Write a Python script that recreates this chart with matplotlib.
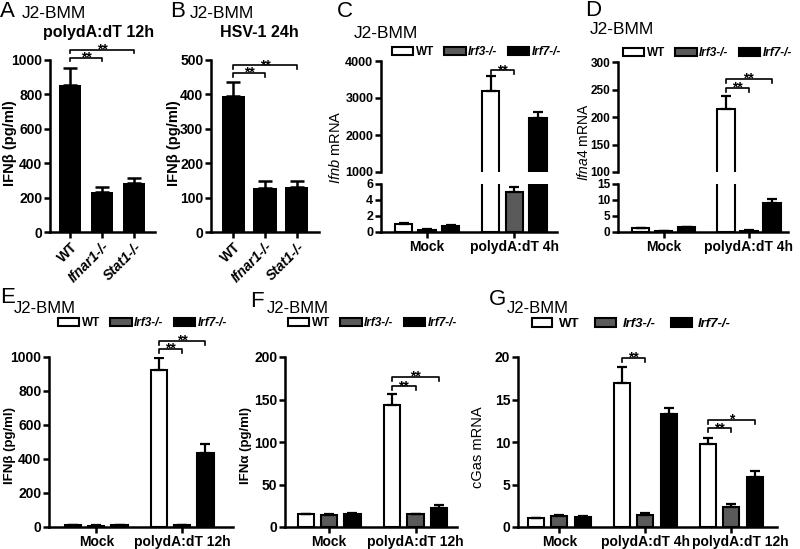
import matplotlib.pyplot as plt
import numpy as np
from matplotlib.patches import Patch
from matplotlib.transforms import ScaledTranslation

plt.rcParams['font.family'] = ['Liberation Sans', 'DejaVu Sans']
plt.rcParams['font.weight'] = 'bold'
plt.rcParams['mathtext.fontset'] = 'custom'
plt.rcParams['mathtext.it'] = 'Liberation Sans:italic:normal'
plt.rcParams['mathtext.rm'] = 'Liberation Sans:normal'

# ---- data ----
# A / B: single bars
a_labels = ['WT', 'Ifnar1-/-', 'Stat1-/-']
a_mean = [855, 230, 285]
a_err = [100, 30, 28]
b_mean = [395, 127, 132]
b_err = [42, 20, 15]

genotypes = ['WT', 'Irf3-/-', 'Irf7-/-']

# C: Ifnb mRNA
c_groups = ['Mock', 'polydA:dT 4h']
c_wt, c_wt_err = [1.0, 3200], [0.08, 400]
c_irf3, c_irf3_err = [0.3, 5.0], [0.05, 0.6]
c_irf7, c_irf7_err = [0.8, 2450], [0.1, 180]

# D: Ifna4 mRNA
d_groups = ['Mock', 'polydA:dT 4h']
d_wt, d_wt_err = [1.1, 215], [0.15, 23]
d_irf3, d_irf3_err = [0.3, 0.4], [0.05, 0.1]
d_irf7, d_irf7_err = [1.5, 9.0], [0.2, 1.3]

# E: IFNb protein
e_groups = ['Mock', 'polydA:dT 12h']
e_wt, e_wt_err = [10, 925], [1, 70]
e_irf3, e_irf3_err = [8, 10], [1, 2]
e_irf7, e_irf7_err = [10, 435], [1, 55]

# F: IFNa protein
f_groups = ['Mock', 'polydA:dT 12h']
f_wt, f_wt_err = [15, 143], [0.5, 14]
f_irf3, f_irf3_err = [14.5, 14.8], [1, 1]
f_irf7, f_irf7_err = [15.5, 22], [1.2, 3.5]

# G: cGas mRNA
g_groups = ['Mock', 'polydA:dT 4h', 'polydA:dT 12h']
g_wt, g_wt_err = [1.05, 16.95, 9.8], [0.05, 1.85, 0.65]
g_irf3, g_irf3_err = [1.3, 1.45, 2.4], [0.1, 0.15, 0.25]
g_irf7, g_irf7_err = [1.2, 13.3, 5.9], [0.08, 0.7, 0.65]

colors = ['white', '#5a5a5a', 'black']
OFF = 0.27  # spacing between bars inside a group

W, H = 800, 549
fig = plt.figure(figsize=(8, 5.49), dpi=100)


def add_ax(x0, y0, x1, y1):
    # pixel box -> figure fraction
    return fig.add_axes([x0 / W, 1 - y1 / H, (x1 - x0) / W, (y1 - y0) / H])


def style(ax, size=10):
    ax.spines[['top', 'right']].set_visible(False)
    ax.spines['left'].set_linewidth(1.8)
    ax.spines['bottom'].set_linewidth(1.8)
    ax.tick_params(direction='out', length=4, width=1.8, labelsize=size, pad=1.5)
    ax.patch.set_visible(False)


def draw_groups(ax, series, errs, width):
    n = len(series[0])
    for j, (vals, err, col) in enumerate(zip(series, errs, colors)):
        x = np.arange(n) + (j - 1) * OFF
        ax.bar(x, vals, width, color=col, edgecolor='black', linewidth=1.5, zorder=2)
        ax.errorbar(x, vals, yerr=[np.zeros(n), err], fmt='none', ecolor='black',
                    elinewidth=1.6, capsize=3.6, capthick=1.6, zorder=3)


def bracket(ax, x1, x2, y, drop, text):
    ax.plot([x1, x1, x2, x2], [y - drop, y, y, y - drop], color='black', lw=1.2,
            clip_on=False, zorder=4)
    ax.annotate(text, xy=((x1 + x2) / 2, y), xytext=(0, -2.8), textcoords='offset points',
                ha='center', va='baseline', fontsize=10, annotation_clip=False)


def legend(ax, x, y, size=8.5, hl=1.8, hp=0.2, cs=0.9):
    handles = [Patch(facecolor=c, edgecolor='black', linewidth=1.5) for c in colors]
    leg = ax.legend(handles, genotypes, ncol=3, frameon=False, handlelength=hl,
                    handleheight=0.6, handletextpad=hp, columnspacing=cs,
                    prop={'size': size, 'weight': 'bold'}, loc='center left',
                    bbox_to_anchor=(x / W, 1 - y / H), bbox_transform=fig.transFigure,
                    borderpad=0, borderaxespad=0)
    for t in leg.get_texts()[1:]:
        t.set_style('italic')


def titles(letter, lx, lb, tx, tb, tsize=12.5):
    fig.text(lx / W, 1 - lb / H, letter, fontsize=16, fontweight='normal', va='baseline')
    fig.text(tx / W, 1 - tb / H, 'J2-BMM', fontsize=tsize, fontweight='normal', va='baseline')


def ylab(x, y, text, size=10.5, weight='bold'):
    fig.text(x / W, 1 - y / H, text, rotation=90, ha='center', va='center',
             fontsize=size, fontweight=weight)


# ---- A ----
ax = add_ax(50, 60, 155, 232)
style(ax)
xa = np.arange(3)
ax.bar(xa, a_mean, 0.7, color='black', zorder=2)
ax.errorbar(xa, a_mean, yerr=[np.zeros(3), a_err], fmt='none', ecolor='black',
            elinewidth=1.8, capsize=4.7, capthick=1.8, zorder=3)
ax.set_xlim(-0.625, 2.656)
ax.set_ylim(0, 1000)
ax.set_yticks([0, 200, 400, 600, 800, 1000])
ax.set_xticks(xa)
labs = ax.set_xticklabels(a_labels, rotation=45, ha='right', rotation_mode='anchor')
for t in labs[1:]:
    t.set_style('italic')
bracket(ax, 0, 1, 1012, 17, '**')
bracket(ax, 0, 2, 1058, 17, '**')
titles('A', 0, 17, 22, 18)
fig.text(43 / W, 1 - 37 / H, 'polydA:dT 12h', fontsize=11.5, va='baseline')
ylab(10, 143, 'IFN\u03b2 (pg/ml)')

# ---- B ----
ax = add_ax(211, 60, 319, 232)
style(ax)
ax.bar(xa, b_mean, 0.72, color='black', zorder=2)
ax.errorbar(xa, b_mean, yerr=[np.zeros(3), b_err], fmt='none', ecolor='black',
            elinewidth=1.8, capsize=4.7, capthick=1.8, zorder=3)
ax.set_xlim(-0.69, 2.69)
ax.set_ylim(0, 500)
ax.set_yticks([0, 100, 200, 300, 400, 500])
ax.set_xticks(xa)
labs = ax.set_xticklabels(a_labels, rotation=45, ha='right', rotation_mode='anchor')
for t in labs[1:]:
    t.set_style('italic')
bracket(ax, 0, 1, 462, 12, '**')
bracket(ax, 0, 2, 485, 12, '**')
titles('B', 170, 17, 190, 18)
fig.text(220 / W, 1 - 37 / H, 'HSV-1 24h', fontsize=11.5, va='baseline')
ylab(174, 143, 'IFN\u03b2 (pg/ml)')

# ---- C (broken axis) ----
c_series = [c_wt, c_irf3, c_irf7]
c_errs = [c_wt_err, c_irf3_err, c_irf7_err]
axt = add_ax(381, 61, 557, 172)
axb = add_ax(381, 184, 557, 232)
for a in (axt, axb):
    style(a, 9)
    draw_groups(a, c_series, c_errs, 0.2)
    a.set_xlim(-0.53, 1.49)
axt.set_ylim(1000, 4000)
axt.set_yticks([1000, 2000, 3000, 4000])
axt.spines['bottom'].set_visible(False)
axt.set_xticks([])
axb.set_ylim(0, 6)
axb.set_yticks([0, 2, 4, 6])
axb.set_xticks(range(len(c_groups)))
axb.set_xticklabels(c_groups, fontsize=10)
bracket(axt, 1 - OFF, 1, 3750, 110, '**')
legend(axt, 392, 52)
titles('C', 337, 17, 354, 38)
ylab(336, 147, r'$\mathit{Ifnb}$ mRNA', weight='normal')

# ---- D (broken axis) ----
d_series = [d_wt, d_irf3, d_irf7]
d_errs = [d_wt_err, d_irf3_err, d_irf7_err]
axt = add_ax(618, 62, 788, 172)
axb = add_ax(618, 184, 788, 232)
for a in (axt, axb):
    style(a, 8.5)
    draw_groups(a, d_series, d_errs, 0.205)
    a.set_xlim(-0.535, 1.46)
axt.set_ylim(100, 300)
axt.set_yticks([100, 150, 200, 250, 300])
axt.spines['bottom'].set_visible(False)
axt.set_xticks([])
axb.set_ylim(0, 15)
axb.set_yticks([0, 5, 10, 15])
axb.set_xticks(range(len(d_groups)))
axb.set_xticklabels(d_groups, fontsize=10)
bracket(axt, 1 - OFF, 1, 253, 7, '**')
bracket(axt, 1 - OFF, 1 + OFF, 269, 7, '**')
legend(axt, 623, 53)
titles('D', 585, 16, 590, 34)
ylab(584, 142, r'$\mathit{Ifna4}$ mRNA', size=10, weight='normal')

# ---- E ----
ax = add_ax(49, 357, 233, 527)
style(ax)
draw_groups(ax, [e_wt, e_irf3, e_irf7], [e_wt_err, e_irf3_err, e_irf7_err], 0.19)
ax.set_xlim(-0.55, 1.59)
ax.set_ylim(0, 1000)
ax.set_yticks([0, 200, 400, 600, 800, 1000])
ax.set_xticks(range(len(e_groups)))
ax.set_xticklabels(e_groups)
bracket(ax, 1 - OFF, 1, 1049, 23, '**')
bracket(ax, 1 - OFF, 1 + OFF, 1096, 23, '**')
legend(ax, 58, 323)
titles('E', 0, 303, 14, 313, 12)
ylab(10, 445, 'IFN\u03b2 (pg/ml)', size=9.5)

# ---- F ----
ax = add_ax(285, 357, 457, 527)
style(ax)
draw_groups(ax, [f_wt, f_irf3, f_irf7], [f_wt_err, f_irf3_err, f_irf7_err], 0.19)
ax.set_xlim(-0.51, 1.48)
ax.set_ylim(0, 200)
ax.set_yticks([0, 50, 100, 150, 200])
ax.set_xticks(range(len(f_groups)))
ax.set_xticklabels(f_groups)
bracket(ax, 1 - OFF, 1, 165.6, 4.7, '**')
bracket(ax, 1 - OFF, 1 + OFF, 176.6, 4.7, '**')
legend(ax, 288, 323)
titles('F', 250, 307, 267, 313, 12)
ylab(246, 445, 'IFN\u03b1 (pg/ml)', size=9.5)

# ---- G ----
ax = add_ax(518, 357, 777, 527)
style(ax)
draw_groups(ax, [g_wt, g_irf3, g_irf7], [g_wt_err, g_irf3_err, g_irf7_err], 0.186)
ax.set_xlim(-0.48, 2.53)
ax.set_ylim(0, 20)
ax.set_yticks([0, 5, 10, 15, 20])
ax.set_xticks(range(len(g_groups)))
labs = ax.set_xticklabels(g_groups)
# the last group label sits a little right of its tick, as in the original
labs[2].set_transform(labs[2].get_transform() + ScaledTranslation(0.09, 0, fig.dpi_scale_trans))
bracket(ax, 1 - OFF, 1, 19.9, 0.47, '**')
bracket(ax, 2 - OFF, 2, 11.6, 0.47, '**')
bracket(ax, 2 - OFF, 2 + OFF, 12.6, 0.47, '*')
legend(ax, 532, 324, size=9.5, hl=1.55, hp=0.5, cs=1.2)
titles('G', 489, 305, 507, 313, 12)
ylab(478, 447, 'cGas mRNA', size=10.5, weight='normal')

fig.savefig('out.png', dpi=100)
